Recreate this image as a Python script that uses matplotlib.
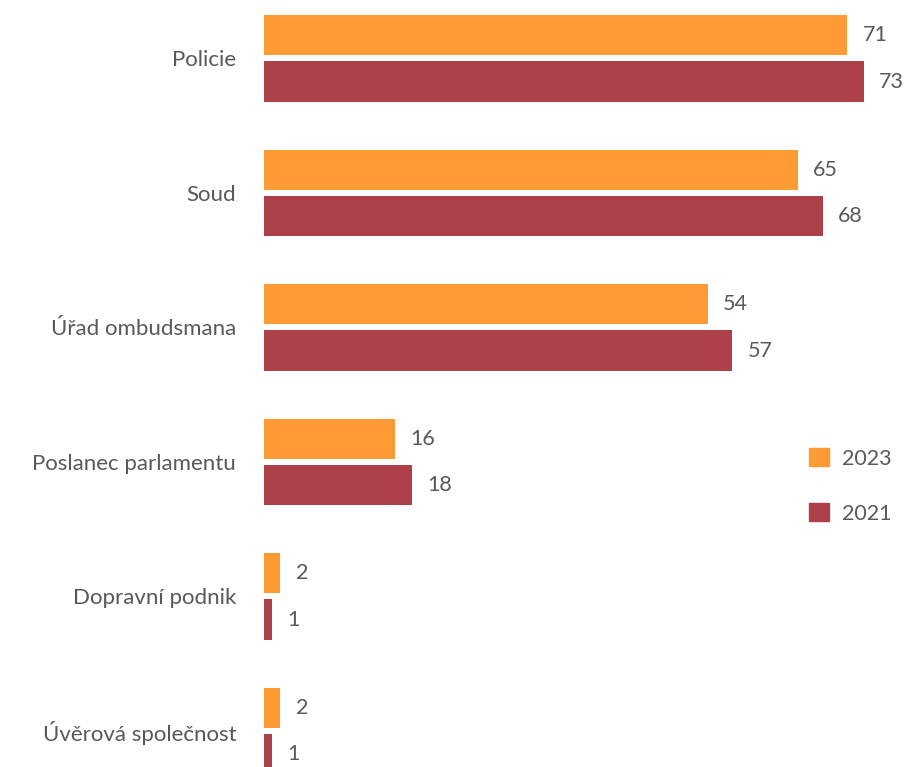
import numpy as np
import matplotlib.pyplot as plt
from matplotlib.patches import Patch

plt.rcParams['font.family'] = ['Lato', 'DejaVu Sans']

categories = ["Policie", "Soud", "Úřad ombudsmana", "Poslanec parlamentu",
              "Dopravní podnik", "Úvěrová společnost"]
values_2023 = [71, 65, 54, 16, 2, 2]
values_2021 = [73, 68, 57, 18, 1, 1]

c2023 = '#FF9B35'
c2021 = '#AD4049'
txt = '#595959'

fig = plt.figure(figsize=(9.08, 7.67), dpi=100)
ax = fig.add_axes([264 / 908, 0, 616 / 908, 1])

y = np.arange(len(categories))
off = 0.172
h = 0.30
b1 = ax.barh(y - off, values_2023, height=h, color=c2023, label='2023')
b2 = ax.barh(y + off, values_2021, height=h, color=c2021, label='2021')

for bars, vals in ((b1, values_2023), (b2, values_2021)):
    for bar, v in zip(bars, vals):
        ax.annotate(f'{v}', (bar.get_width(), bar.get_y() + bar.get_height() / 2),
                    xytext=(11, 0), textcoords='offset points',
                    ha='left', va='center', fontsize=15.5, color=txt)

ax.set_xlim(0, 75)
ax.set_ylim(5.268, -0.434)
ax.set_yticks(y)
ax.set_yticklabels(categories, fontsize=16, color=txt)
ax.tick_params(axis='y', length=0, pad=20)
ax.set_xticks([])
for s in ax.spines.values():
    s.set_visible(False)

handles = [Patch(color=c2023, label='2023'), Patch(color=c2021, label='2021')]
fig.legend(handles=handles, loc='center left', bbox_to_anchor=(790 / 908, 1 - 486 / 767),
           frameon=False, fontsize=15.5, labelcolor=txt, handlelength=0.9,
           handleheight=0.9, labelspacing=1.6, handletextpad=0.6)

fig.savefig('out.png', dpi=100)
